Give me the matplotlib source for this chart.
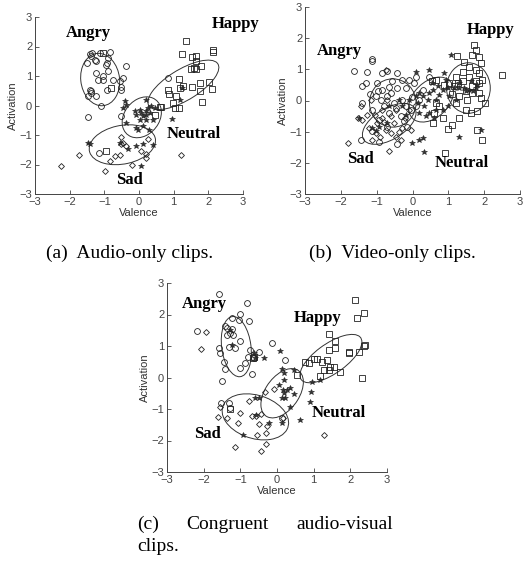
import numpy as np
import matplotlib.pyplot as plt
from matplotlib.patches import Ellipse

# (valence, activation) pairs

# (a) audio-only
a_angry = [(-1.42, 1.76), (-1.35, 1.78), (-1.28, 1.55), (-1.23, 1.50), (-1.50, 1.44), (-1.38, 1.67),
           (-1.13, 1.78), (-0.85, 1.81), (-0.89, 1.61), (-0.92, 1.44), (-0.94, 1.38), (-0.89, 1.18),
           (-1.23, 1.10), (-1.18, 0.87), (-1.04, 0.87), (-0.75, 0.87), (-0.56, 0.82), (-0.46, 0.93),
           (-0.37, 1.33), (-0.51, 0.63), (-0.51, 0.54), (-0.92, 0.54), (-1.42, 0.54), (-1.38, 0.48),
           (-1.47, 0.31), (-1.23, 0.31), (-1.38, 0.42), (-1.09, 0.0), (-1.47, -0.39), (-0.51, -0.37),
           (-1.15, -1.61), (0.84, 0.93), (-1.04, 0.99)]
a_happy = [(1.37, 2.17), (2.13, 1.89), (2.13, 1.81), (1.25, 1.76), (1.54, 1.64), (1.65, 1.69),
           (1.65, 1.50), (1.78, 1.35), (1.58, 1.27), (1.49, 1.24), (1.63, 1.24), (1.15, 0.90),
           (1.75, 0.76), (2.02, 0.81), (0.84, 0.54), (0.87, 0.38), (1.27, 0.65), (1.17, 0.59),
           (1.54, 0.63), (1.75, 0.48), (2.10, 0.57), (1.06, 0.31), (1.83, 0.11), (0.98, 0.08),
           (1.05, -0.10), (1.14, -0.10), (0.60, -0.06), (0.63, -0.05), (0.46, -0.31), (-1.04, 1.78),
           (-0.82, 0.59), (-0.96, -1.53)]
a_sad = [(-2.24, -2.06), (-1.73, -1.69), (-0.99, -2.23), (-0.85, -1.89), (-0.70, -1.72), (-0.56, -1.68),
         (-0.51, -1.07), (-0.46, -1.27), (-0.37, -1.38), (-0.19, -2.00), (0.21, -1.78), (0.26, -1.14),
         (0.07, -1.55), (1.22, -1.67), (-0.51, -1.29), (0.21, -1.63)]
a_neutral = [(-0.41, 0.14), (-0.46, -0.08), (-0.37, -0.59), (-0.12, -0.20), (-0.08, -0.31), (0.02, -0.14),
             (0.07, -0.25), (0.12, -0.37), (0.21, -0.20), (0.21, -0.31), (0.26, -0.08), (0.31, -0.25),
             (0.36, -0.03), (0.02, -0.48), (0.12, -0.71), (-0.10, -0.76), (-0.03, -0.82), (0.28, -0.82),
             (0.21, -0.48), (0.40, -0.48), (0.45, -0.08), (-1.47, -1.27), (-1.42, -1.30), (-0.54, -1.27),
             (-0.32, -1.48), (-0.08, -1.38), (0.12, -1.31), (0.40, -1.33), (0.07, -2.06), (0.95, -0.46),
             (1.17, 0.20), (1.25, 0.59), (-0.37, 0.03), (0.21, 0.20)]

# (b) video-only
b_angry = [(-1.12, 1.33), (-1.12, 1.28), (-1.63, 0.96), (-1.26, 0.93), (-0.84, 0.88), (-0.72, 0.95),
           (-0.42, 0.88), (-1.41, 0.45), (-1.30, 0.56), (-0.98, 0.56), (-0.84, 0.34), (-0.65, 0.43),
           (-0.56, 0.61), (-0.28, 0.66), (-0.09, 0.66), (-0.19, 0.40), (-0.42, 0.40), (-1.02, 0.13),
           (-0.88, 0.02), (-0.70, 0.13), (-0.51, -0.09), (-0.28, 0.02), (-0.19, -0.19), (-0.05, -0.30),
           (0.09, -0.19), (0.19, 0.02), (0.28, 0.34), (0.05, 0.56), (-1.44, -1.26), (-0.93, -1.32),
           (-0.42, -1.39), (-0.65, -0.41), (-1.12, -0.30), (-0.33, -0.51), (-1.40, -0.09), (-0.93, -0.62),
           (-0.79, -0.19), (0.09, 0.75), (0.47, 0.77), (-0.14, -0.84), (-1.12, -0.99), (-0.60, 0.25),
           (-0.45, -0.25), (-0.95, 0.30), (-0.25, -0.65), (-0.02, 0.10), (-1.20, 0.20), (-0.70, -0.85)]
b_happy = [(1.72, 1.79), (1.77, 1.63), (1.67, 1.47), (1.24, 1.44), (1.44, 1.22), (1.86, 1.41),
           (1.91, 1.20), (1.58, 1.09), (1.77, 0.99), (1.40, 0.93), (1.86, 0.88), (2.51, 0.83),
           (1.58, 0.77), (1.95, 0.66), (1.77, 0.61), (1.40, 0.61), (1.26, 0.56), (1.16, 0.45),
           (1.02, 0.56), (0.65, 0.66), (0.88, 0.50), (1.49, 0.29), (1.67, 0.24), (1.86, 0.24),
           (1.91, 0.08), (2.03, -0.09), (1.21, -0.09), (1.49, -0.30), (1.63, -0.41), (1.81, -0.35),
           (1.30, -0.57), (1.10, -0.78), (0.98, -0.92), (1.81, -0.94), (1.95, -1.26), (0.91, -1.67),
           (0.84, -0.57), (0.56, -0.73), (0.60, -0.41), (0.74, -0.19), (1.30, 0.13), (1.53, 0.02),
           (0.65, -0.09), (0.54, 0.61), (1.10, 0.20), (1.65, 0.45), (1.85, 0.55), (1.20, 0.75)]
b_sad = [(-1.81, -1.37), (-0.65, -1.61), (-1.44, -0.19), (-1.51, -0.57), (-1.21, -0.89), (-1.02, -1.05),
         (-0.91, -1.16), (-0.74, -0.94), (-0.60, -1.05), (-0.47, -1.16), (-0.37, -1.00), (-0.98, -0.73),
         (-0.84, -0.57), (-0.51, -0.73), (-0.28, -0.89), (-0.05, -0.94), (-0.70, 0.02), (-0.47, -0.30),
         (-1.16, 0.02), (-0.09, -0.30), (-1.26, -0.46), (-1.40, -0.62), (-0.73, 0.99), (-0.79, -0.68),
         (-1.12, -1.26), (-0.33, -1.26), (-0.85, -0.30), (-1.05, -0.45), (-0.60, -0.50), (-0.20, -0.55)]
b_neutral = [(0.09, 0.93), (0.45, 0.99), (1.07, 1.47), (1.91, -0.94), (1.30, -1.16), (0.33, -1.64),
             (-0.02, -1.37), (0.19, -1.26), (0.28, -1.21), (0.19, 0.24), (0.28, 0.13), (0.42, 0.02),
             (0.47, 0.24), (0.56, 0.34), (0.65, 0.02), (0.74, 0.18), (0.84, 0.34), (0.98, 0.40),
             (1.02, 0.13), (1.16, 0.40), (1.30, 0.40), (1.44, 0.40), (1.58, 0.34), (1.77, 0.40),
             (0.93, 0.66), (0.88, 0.88), (0.33, -0.19), (0.47, -0.41), (0.60, -0.57), (0.37, -0.51),
             (0.19, -0.41), (0.14, -0.09), (0.09, 0.13), (0.65, -0.30), (0.84, -0.30), (0.98, -0.19),
             (1.21, 0.02), (1.30, 0.56), (1.63, 0.61), (1.81, 0.50), (-0.93, -0.84), (-1.12, -0.89),
             (-1.02, -0.99), (-0.70, -0.73), (-1.49, -0.57), (-0.65, -0.19), (-0.37, 0.02), (-0.28, -0.19),
             (-0.09, 0.02), (-0.19, -0.46), (0.55, 0.55), (0.70, 0.45), (1.50, 0.30), (1.70, 0.30)]

# (c) congruent audio-visual
c_angry = [(-1.59, 2.66), (-0.82, 2.38), (-2.18, 1.48), (-1.23, 1.88), (-1.00, 2.01), (-0.77, 1.78),
           (-1.41, 1.64), (-1.36, 1.57), (-1.23, 1.53), (-1.27, 1.41), (-1.36, 1.35), (-1.20, 1.35),
           (-1.00, 1.17), (-1.05, 1.83), (-1.59, 0.93), (-1.32, 0.98), (-1.14, 0.93), (-0.73, 0.88),
           (-0.50, 0.82), (-0.14, 1.11), (0.23, 0.56), (-1.55, 0.79), (-1.45, 0.50), (-1.43, 0.27),
           (-1.50, -0.10), (-1.00, 0.31), (-0.86, 0.45), (-0.64, 0.61), (-0.68, 0.11), (-0.80, 0.64),
           (-1.53, -0.82), (-1.32, -0.82), (-1.27, -0.98), (0.14, -1.30)]
c_happy = [(2.14, 2.47), (2.18, 1.88), (2.38, 2.06), (1.43, 1.39), (1.59, 1.17), (1.41, 0.88),
           (1.59, 0.93), (1.95, 0.79), (1.97, 0.82), (2.23, 0.82), (2.36, 1.00), (2.39, 1.02),
           (2.32, 0.00), (0.77, 0.50), (0.86, 0.45), (1.00, 0.58), (1.09, 0.58), (1.23, 0.50),
           (1.36, 0.56), (1.45, 0.34), (1.27, 0.24), (1.18, 0.05), (1.41, 0.24), (1.56, 0.32),
           (1.73, 0.19), (0.55, 0.08), (-0.64, 0.66), (-0.65, 0.61), (-1.27, -1.00)]
c_sad = [(-2.06, 0.91), (-1.95, 1.46), (-1.62, -1.25), (-1.36, -1.30), (-1.55, -0.95), (-1.02, -1.14),
         (-1.07, -1.44), (-1.15, -2.20), (-0.77, -0.75), (-0.68, -1.23), (-0.55, -1.83), (-0.50, -1.49),
         (-0.43, -1.16), (-0.30, -1.76), (-0.44, -2.34), (-0.29, -2.10), (-0.27, -1.54), (-0.56, -1.23),
         (-0.32, -0.45), (-0.09, -0.38), (0.15, -1.30), (1.27, -1.81)]
c_neutral = [(-0.36, 0.63), (0.07, 0.85), (-0.62, 0.79), (0.14, 0.26), (0.18, 0.15), (0.20, -0.08),
             (0.45, 0.24), (0.05, -0.24), (0.16, -0.40), (0.27, -0.40), (0.20, -0.50), (0.35, -0.34),
             (0.45, -0.53), (0.23, -0.66), (0.14, -0.66), (0.36, -0.93), (0.64, -1.35), (0.91, -0.77),
             (0.93, -0.45), (0.95, -0.13), (1.18, -0.08), (-0.59, -0.66), (-0.50, -0.66), (-0.56, -1.20),
             (-0.23, -1.44), (-0.93, -1.81), (-1.22, 1.03), (-1.29, 1.51), (-0.61, 0.63), (0.14, -1.44)]

# ellipses: (centre v, centre a, width, height, angle)
a_ellipses = [(-1.12, 0.88, 1.12, 1.78, 5), (1.28, 0.70, 2.45, 1.00, 37),
              (0.08, -0.40, 1.45, 1.05, 65), (-0.48, -1.33, 1.95, 1.30, 15)]
b_ellipses = [(-0.55, -0.08, 1.30, 1.55, 0), (1.56, 0.40, 1.22, 1.62, 0),
              (0.52, 0.03, 1.60, 1.05, 55), (-0.65, -0.75, 1.75, 0.95, 38)]
c_ellipses = [(-1.11, 0.98, 0.80, 1.92, 6), (1.47, 0.60, 2.10, 0.90, 41),
              (0.14, -0.50, 1.70, 0.95, 62), (-0.59, -1.25, 1.90, 1.35, -25)]

a_labels = [("Angry", -1.47, 2.46), ("Happy", 2.79, 2.77), ("Neutral", 1.58, -0.95), ("Sad", -0.27, -2.51)]
b_labels = [("Angry", -2.05, 1.58), ("Happy", 2.17, 2.27), ("Neutral", 1.38, -2.02), ("Sad", -1.44, -1.89)]
c_labels = [("Angry", -1.98, 2.34), ("Happy", 1.11, 1.90), ("Neutral", 1.68, -1.14), ("Sad", -1.89, -1.78)]

ticks = [-3, -2, -1, 0, 1, 2, 3]


def draw_panel(ax, angry, happy, sad, neutral, ellipses, labels):
    ms = 4.2
    for pts, m, s in [(angry, 'o', ms), (happy, 's', ms - 0.3), (sad, 'D', ms - 1.2)]:
        v, a = zip(*pts)
        ax.plot(v, a, m, ms=s, mfc='none', mec='#222222', mew=0.6)
    v, a = zip(*neutral)
    ax.plot(v, a, '*', ms=4.2, mfc='#333333', mec='#222222', mew=0.4)
    for cx, cy, w, h, ang in ellipses:
        ax.add_patch(Ellipse((cx, cy), w, h, angle=ang, fill=False, ec='#333333', lw=0.7))
    for txt, x, y in labels:
        ax.text(x, y, txt, ha='center', va='center', family='Liberation Serif',
                fontweight='bold', fontsize=12, clip_on=False)
    ax.set_xlim(-3, 3)
    ax.set_ylim(-3, 3)
    ax.set_xticks(ticks)
    ax.set_yticks(ticks)
    for s in ['top', 'right']:
        ax.spines[s].set_visible(False)
    for s in ['left', 'bottom']:
        ax.spines[s].set_color('#444444')
        ax.spines[s].set_linewidth(0.7)
    ax.tick_params(direction='in', length=3, width=0.6, colors='#444444', labelsize=8, pad=2)
    for t in ax.get_xticklabels() + ax.get_yticklabels():
        t.set_family('Liberation Sans')
    ax.set_xlabel('Valence', fontsize=8, family='Liberation Sans', color='#333333', labelpad=1)
    ax.set_ylabel('Activation', fontsize=8, family='Liberation Sans', color='#333333', labelpad=1)


fig = plt.figure(figsize=(5.24, 5.68), dpi=100)

ax1 = fig.add_axes([35 / 524, 1 - 194 / 568, 208 / 524, 177 / 568])
ax2 = fig.add_axes([305 / 524, 1 - 194 / 568, 215 / 524, 187 / 568])
ax3 = fig.add_axes([167 / 524, 1 - 472 / 568, 220 / 524, 189 / 568])

draw_panel(ax1, a_angry, a_happy, a_sad, a_neutral, a_ellipses, a_labels)
draw_panel(ax2, b_angry, b_happy, b_sad, b_neutral, b_ellipses, b_labels)
draw_panel(ax3, c_angry, c_happy, c_sad, c_neutral, c_ellipses, c_labels)

cap = dict(family='Liberation Serif', fontsize=14, va='baseline')
fig.text(130 / 524, 1 - 258 / 568, "(a)  Audio-only clips.", ha='center', **cap)
fig.text(392 / 524, 1 - 258 / 568, "(b)  Video-only clips.", ha='center', **cap)

# justified first line of caption (c)
t1 = fig.text(137 / 524, 1 - 529 / 568, "(c)", ha='left', **cap)
t3 = fig.text(393 / 524, 1 - 529 / 568, "audio-visual", ha='right', **cap)
fig.text(137 / 524, 1 - 551 / 568, "clips.", ha='left', **cap)
fig.canvas.draw()
r = fig.canvas.get_renderer()
e1 = t1.get_window_extent(r)
e3 = t3.get_window_extent(r)
fig.text((e1.x1 + e3.x0) / 2 / fig.bbox.width, 1 - 529 / 568, "Congruent", ha='center', **cap)

fig.savefig('out.png', dpi=100)
